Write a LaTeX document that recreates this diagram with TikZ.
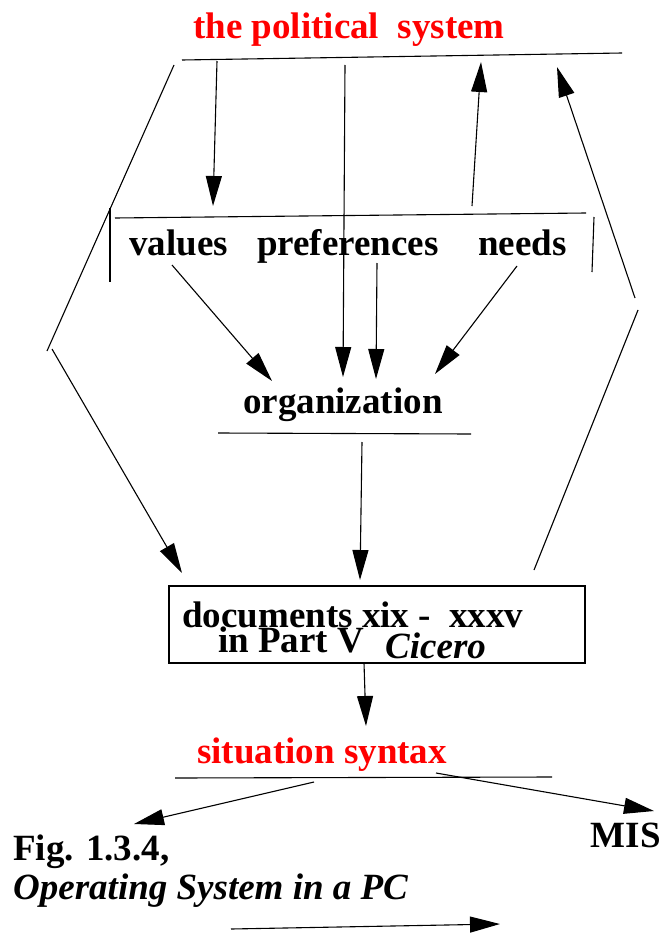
\documentclass[tikz,border=0pt]{standalone}
\usepackage{fontspec}
\setmainfont{Liberation Serif}
\usetikzlibrary{arrows.meta}
\begin{document}
\begin{tikzpicture}[x=1pt,y=-1pt,
  lbl/.style={inner sep=0pt, anchor=base west, font=\fontsize{37}{40}\selectfont\bfseries},
  itlbl/.style={lbl, font=\fontsize{37}{40}\selectfont\bfseries\itshape},
  redlbl/.style={lbl, text=red},
  ln/.style={line width=1.1pt},
  arr/.style={ln, -{Triangle[length=30pt,width=16pt]}},
]
\useasboundingbox (0,0) rectangle (661,934);

% labels
\node[redlbl] (polsys) at (193,39) {the political\ \ system};
\node[lbl] (values) at (129,255) {values};
\node[lbl] (prefs) at (257,255) {preferences};
\node[lbl] (needs) at (478,255) {needs};
\node[lbl] (org) at (243,413) {organization};
\node[draw, line width=2pt, inner sep=0pt, minimum width=416pt, minimum height=77pt] (box) at (377,624.5) {};
\node[lbl, text depth=0pt] (docs) at (182,627) {documents xix -\ \ xxxv};
\node[lbl, text height=24pt] (part) at (218,652) {in Part V};
\node[itlbl, text height=24pt] (cicero) at (385,658) {Cicero};
\node[redlbl] (sitsyn) at (197,763) {situation syntax};
\node[lbl, anchor=base east] (mis) at (661,847) {MIS};
\node[lbl] (fig) at (13,860) {Fig. 1.3.4,};
\node[itlbl] (os) at (13,899) {Operating System in a PC};

% end points of the connectors
\coordinate (tl1) at (182,60);   \coordinate (tl2) at (622,53);
\coordinate (lu1) at (174,65);   \coordinate (lu2) at (47,351);
\coordinate (ll1) at (52,349);   \coordinate (ll2) at (182,573);
\coordinate (dn1) at (217,61);   \coordinate (dn2) at (213,206);
\coordinate (lv1) at (345,65);   \coordinate (lv2) at (343,377);
\coordinate (up1) at (472,206);  \coordinate (up2) at (481,62);
\coordinate (ru1) at (635,298);  \coordinate (ru2) at (557,67);
\coordinate (rl1) at (534,570);  \coordinate (rl2) at (638,310);
\coordinate (vl1) at (115,218);  \coordinate (vl2) at (586,213);
\coordinate (lb1) at (110,208);  \coordinate (lb2) at (110,282);
\coordinate (rb1) at (594,217);  \coordinate (rb2) at (592,272);
\coordinate (va1) at (172,265);  \coordinate (va2) at (272,381);
\coordinate (pa1) at (377,263);  \coordinate (pa2) at (376,379);
\coordinate (na1) at (517,266);  \coordinate (na2) at (435,374);
\coordinate (ol1) at (218,433);  \coordinate (ol2) at (471,434);
\coordinate (oa1) at (362,442);  \coordinate (oa2) at (360,580);
\coordinate (ba1) at (364,663);  \coordinate (ba2) at (366,726);
\coordinate (sl1) at (175,778);  \coordinate (sl2) at (552,777);
\coordinate (sa1) at (314,782);  \coordinate (sa2) at (134,824);
\coordinate (sb1) at (436,773);  \coordinate (sb2) at (654,811);
\coordinate (bt1) at (231,929);  \coordinate (bt2) at (500,924);

% plain lines
\draw[ln] (tl1) -- (tl2);
\draw[ln] (lu1) -- (lu2);
\draw[ln] (rl1) -- (rl2);
\draw[ln] (vl1) -- (vl2);
\draw[ln] (lb1) -- (lb2);
\draw[ln] (rb1) -- (rb2);
\draw[ln] (ol1) -- (ol2);
\draw[ln] (sl1) -- (sl2);

% arrows
\draw[arr] (ll1) -- (ll2);
\draw[arr] (dn1) -- (dn2);
\draw[arr] (lv1) -- (lv2);
\draw[arr] (up1) -- (up2);
\draw[arr] (ru1) -- (ru2);
\draw[arr] (va1) -- (va2);
\draw[arr] (pa1) -- (pa2);
\draw[arr] (na1) -- (na2);
\draw[arr] (oa1) -- (oa2);
\draw[arr] (ba1) -- (ba2);
\draw[arr] (sa1) -- (sa2);
\draw[arr] (sb1) -- (sb2);
\draw[arr] (bt1) -- (bt2);
\end{tikzpicture}
\end{document}
